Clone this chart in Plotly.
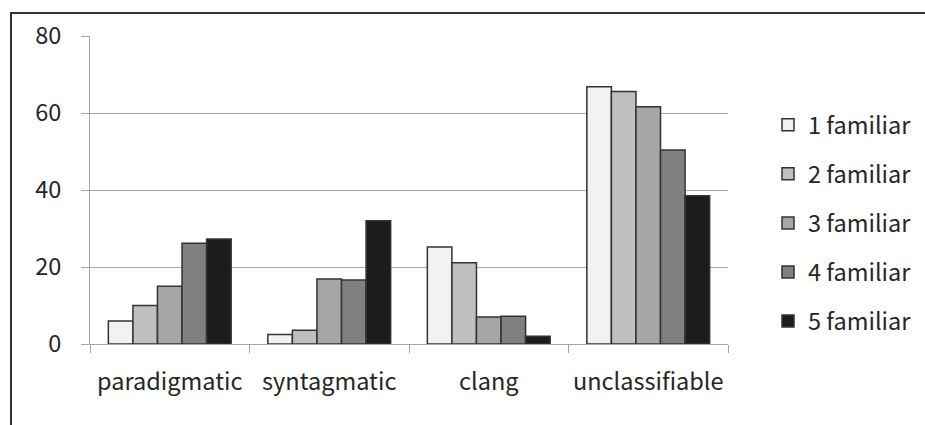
import plotly.graph_objects as go

categories = ["paradigmatic", "syntagmatic", "clang", "unclassifiable"]
series_names = ["1 familiar", "2 familiar", "3 familiar", "4 familiar", "5 familiar"]
fam1 = [6.0, 2.5, 25.2, 66.8]
fam2 = [10.0, 3.6, 21.1, 65.6]
fam3 = [15.0, 16.9, 7.0, 61.6]
fam4 = [26.2, 16.6, 7.2, 50.4]
fam5 = [27.3, 32.0, 2.0, 38.5]
series_values = [fam1, fam2, fam3, fam4, fam5]
colors = ["#f2f2f2", "#bfbfbf", "#a6a6a6", "#808080", "#1c1c1c"]
y_ticks = [0, 20, 40, 60, 80]

FONT = "Noto Sans CJK KR"
FS = 23.5
fig = go.Figure()
for i, (name, vals) in enumerate(zip(series_names, series_values)):
    fig.add_trace(go.Bar(
        x=categories, y=vals, name=name, legendgroup=name,
        marker=dict(color=colors[i], line=dict(color="#333333", width=1.5)),
    ))

L, R, T, B = 90, 197, 36, 81
W, H = 925, 425
pw, ph = W - L - R, H - T - B

def px_x(p):
    return (p - L) / pw

def px_y(p):
    return (H - B - p) / ph

fig.update_layout(
    width=W, height=H,
    margin=dict(l=L, r=R, t=T, b=B, pad=0, autoexpand=False),
    paper_bgcolor="white", plot_bgcolor="white",
    barmode="group", bargap=0.23, bargroupgap=0,
    font=dict(family=FONT, size=FS, color="#262626"),
    legend=dict(
        x=px_x(768), y=px_y(103), xanchor="left", yanchor="top",
        font=dict(family=FONT, size=FS, color="#262626"),
        tracegroupgap=15.5, itemwidth=30, bgcolor="rgba(0,0,0,0)",
    ),
    showlegend=True,
    xaxis=dict(
        showline=True, linecolor="#a6a6a6", linewidth=1,
        ticks="outside", ticklen=8, tickcolor="#a6a6a6", tickson="boundaries",
        showgrid=False, ticklabelstandoff=17, tickangle=0, automargin=False,
        tickfont=dict(family=FONT, size=FS, color="#262626"),
        range=[-0.5, 3.5],
    ),
    yaxis=dict(
        range=[0, 80], tickvals=y_ticks, showgrid=True, gridcolor="#a6a6a6", gridwidth=1,
        showline=True, linecolor="#a6a6a6", linewidth=1,
        ticks="outside", ticklen=8, tickcolor="#a6a6a6",
        ticklabelstandoff=15, zeroline=False, automargin=False,
        tickfont=dict(family=FONT, size=FS, color="#262626"),
    ),
    shapes=[
        dict(type="line", xref="paper", yref="paper",
             x0=px_x(11), x1=px_x(11), y0=px_y(430), y1=px_y(13),
             line=dict(color="#333333", width=2)),
        dict(type="line", xref="paper", yref="paper",
             x0=px_x(10), x1=px_x(930), y0=px_y(13), y1=px_y(13),
             line=dict(color="#333333", width=2)),
    ],
)

fig.write_html("out.html")
